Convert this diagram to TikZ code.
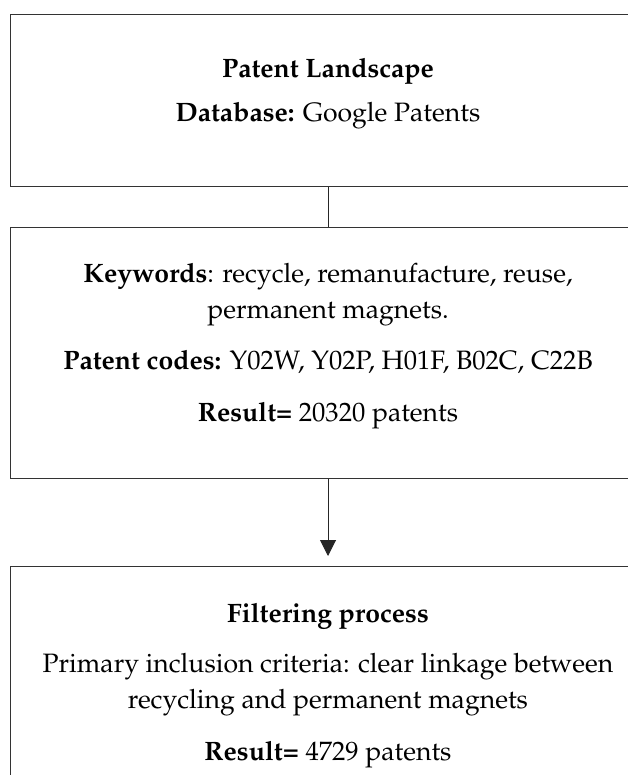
\documentclass[tikz,border=0pt]{standalone}
\usepackage[T1]{fontenc}
\usepackage{mathpazo}
\usetikzlibrary{arrows.meta}

\tikzset{
	frame/.style={draw=black!80, line width=0.65pt, anchor=north west, inner sep=0pt},
	txt/.style={anchor=base, align=center, inner sep=0pt, font=\fontsize{13.3}{17.8}\selectfont},
	link/.style={draw=black!85, line width=0.5pt},
}

\begin{document}
\begin{tikzpicture}[x=0.5pt, y=-0.5pt]
	%%%%% START %%%%%
	\useasboundingbox (0, 0) rectangle (627, 775);

	% boxes, wider than the page on the right
	\node[frame, minimum width=318pt, minimum height=86pt] (landscape) at (10, 14) {};
	\node[frame, minimum width=318pt, minimum height=125.5pt] (search) at (10, 227) {};
	\node[frame, minimum width=318pt, minimum height=120pt] (filtering) at (10, 566) {};

	% first box
	\node[txt] (title) at (328, 78) {\textbf{Patent Landscape}};
	\node[txt] (db) at (328, 122) {\textbf{Database:} Google Patents};

	% second box (base = last line)
	\node[txt] (keywords) at (328, 318) {\textbf{Keywords}: recycle, remanufacture, reuse,\\ permanent magnets.};
	\node[txt] (codes) at (328, 369) {\textbf{Patent codes:} Y02W, Y02P, H01F, B02C, C22B};
	\node[txt] (result1) at (328, 421) {\textbf{Result=} 20320 patents};

	% third box
	\node[txt] (filter) at (328, 622) {\textbf{Filtering process}};
	\node[txt] (criteria) at (328, 708) {Primary inclusion criteria: clear linkage between\\ recycling and permanent magnets};
	\node[txt] (result2) at (328, 760) {\textbf{Result=} 4729 patents};

	% connectors
	\draw[link] (landscape.south -| title) -- (search.north -| title);
	\draw[link, -{Triangle[length=8pt, width=8pt]}, shorten >=5pt] (search.south -| title) -- (filtering.north -| title);

	%%%%% END %%%%%
\end{tikzpicture}
\end{document}
